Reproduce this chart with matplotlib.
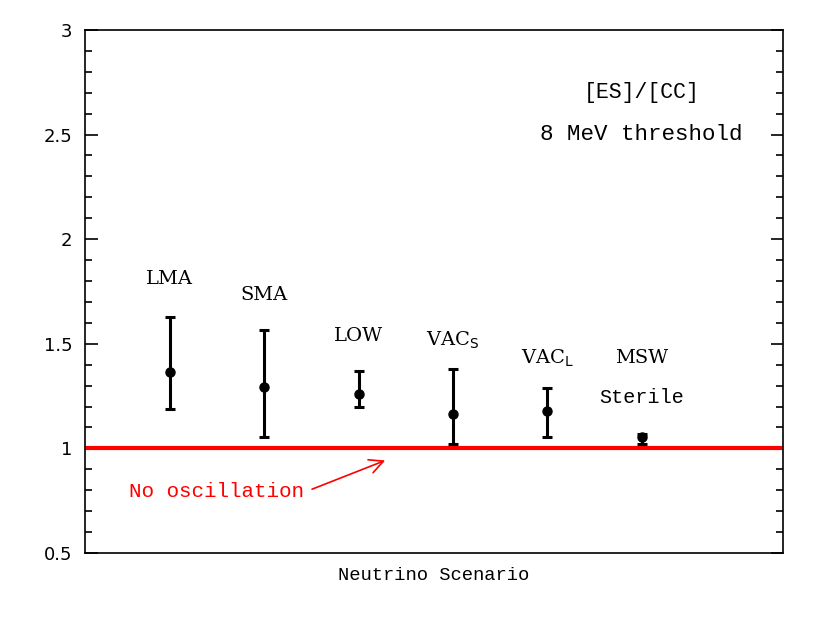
import matplotlib.pyplot as plt
from matplotlib.ticker import MultipleLocator, NullLocator

# scenario data: ratio [ES]/[CC] with error range
scenarios = ["LMA", "SMA", "LOW", "VAC$_\\mathrm{S}$", "VAC$_\\mathrm{L}$", "MSW"]
x_pos = [1, 2, 3, 4, 5, 6]
ratio = [1.364, 1.292, 1.258, 1.163, 1.180, 1.053]
err_hi = [1.627, 1.565, 1.368, 1.378, 1.287, 1.070]
err_lo = [1.187, 1.053, 1.200, 1.020, 1.053, 1.020]
label_y = [1.785, 1.708, 1.515, 1.493, 1.405, 1.408]

fig = plt.figure(figsize=(8.33, 6.23), dpi=100)
ax = fig.add_axes([0.102, 0.1124, 0.838, 0.8396])

yerr = [[r - lo for r, lo in zip(ratio, err_lo)],
        [hi - r for r, hi in zip(ratio, err_hi)]]
ax.errorbar(x_pos, ratio, yerr=yerr, fmt='o', color='black', ms=6.5,
            elinewidth=2.2, capsize=3.5, capthick=2.2, zorder=3)

ax.axhline(1.0, color='red', lw=3, zorder=2)

serif = ['DejaVu Serif']
mono = ['Liberation Mono', 'DejaVu Serif']
for x, lab, ly in zip(x_pos, scenarios, label_y):
    ax.text(x, ly, lab, ha='center', va='baseline', fontsize=14, family=serif)
ax.text(6, 1.215, "Sterile", ha='center', va='baseline', fontsize=14.5, family=mono)

ax.text(6.0, 2.70, "[ES]/[CC]", ha='center', va='center', fontsize=15.5, family=mono)
ax.text(6.0, 2.50, "8 MeV threshold", ha='center', va='center', fontsize=16.2, family=mono)

ax.text(1.49, 0.794, "No oscillation", ha='center', va='center', fontsize=15,
        family=mono, color='red')
ax.annotate("", xy=(3.31, 0.947), xytext=(2.48, 0.80),
            arrowprops=dict(arrowstyle='->', color='red', lw=1.2,
                            mutation_scale=25))

ax.set_xlim(0.1, 7.5)
ax.set_ylim(0.5, 3.0)
ax.xaxis.set_major_locator(NullLocator())
ax.yaxis.set_minor_locator(MultipleLocator(0.1))
ax.set_yticks([0.5, 1, 1.5, 2, 2.5, 3])
ax.set_yticklabels(["0.5", "1", "1.5", "2", "2.5", "3"])
ax.tick_params(axis='y', which='both', direction='in', right=True, labelsize=13, width=1.2)
ax.tick_params(axis='y', which='major', length=9, pad=9)
ax.tick_params(axis='y', which='minor', length=5)
for s in ax.spines.values():
    s.set_linewidth(1.2)

ax.set_xlabel("Neutrino Scenario", fontsize=13.5, family=mono, labelpad=10)

fig.savefig("out.png", dpi=100)
